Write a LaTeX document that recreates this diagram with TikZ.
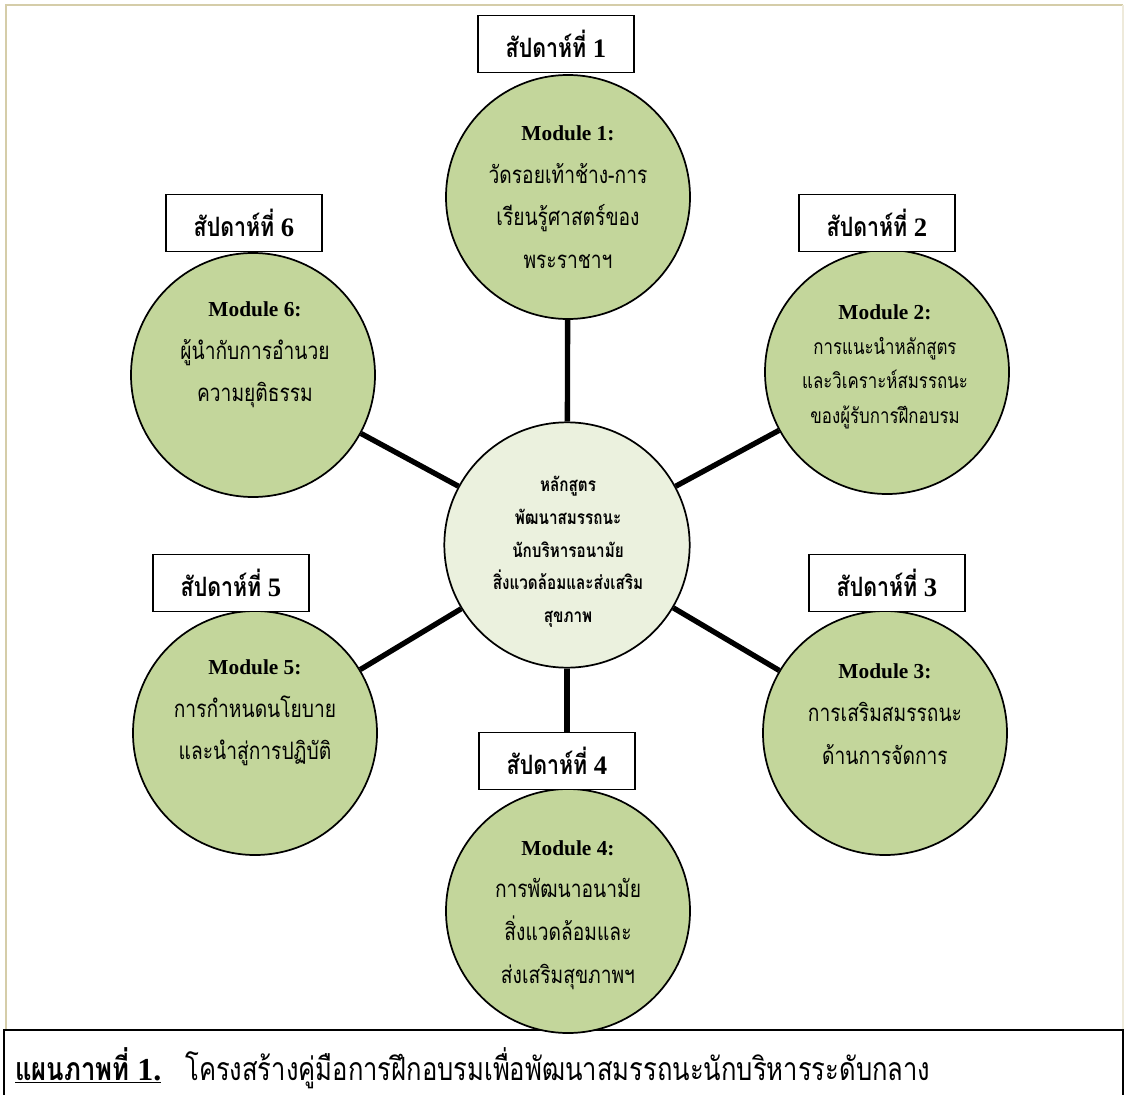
\documentclass[tikz,border=0pt]{standalone}
\usepackage{fontspec}
\setmainfont{Liberation Serif}
\newfontfamily\thai[Script=Thai,FakeStretch=0.8]{Loma}
\newcommand{\modhead}[1]{{\fontsize{16}{32}\selectfont\bfseries #1}}
\definecolor{modfill}{HTML}{C3D69B}
\definecolor{cenfill}{HTML}{EBF1DE}
\definecolor{frametan}{HTML}{D5CDA9}
\definecolor{frameright}{HTML}{EEEADB}
\tikzset{
  modcirc/.style={circle, draw=black, line width=1.3pt, fill=modfill, minimum size=183pt, inner sep=0pt},
  cencirc/.style={circle, draw=black, line width=1.3pt, fill=cenfill, minimum size=184pt, inner sep=0pt},
  weekbox/.style={rectangle, draw=black, line width=1.1pt, fill=white, minimum width=117pt, minimum height=43pt, inner sep=0pt, font=\bfseries\fontsize{20}{24}\selectfont},
  link/.style={line width=4pt},
  modtext/.style={align=center, inner sep=0pt, font=\fontsize{18}{32}\selectfont},
  modtextsmall/.style={align=center, inner sep=0pt, font=\fontsize{15.8}{26}\selectfont},
  centext/.style={align=center, inner sep=0pt, font=\bfseries\fontsize{14.3}{24.5}\selectfont},
}
\begin{document}
\begin{tikzpicture}[x=0.75pt,y=-0.75pt]
\useasboundingbox (0,0) rectangle (1125,1095);
% outer frame
\draw[frametan, line width=2pt] (6,1030) -- (6,5) -- (1123,5);
\draw[frameright, line width=1.2pt] (1123,5) -- (1123,1030);
% caption box
\draw[black, line width=1.5pt] (4,1100) -- (4,1030) -- (1123,1030) -- (1123,1100);
\node[anchor=west, inner sep=0pt, font=\fontsize{24}{28}\selectfont] (cap) at (15,1068)
  {\underline{\bfseries{\thai แผนภาพที่} 1.}\ \ \ {\thai โครงสร้างคู่มือการฝึกอบรมเพื่อพัฒนาสมรรถนะนักบริหารระดับกลาง}};
% circles
\node[cencirc] (c) at (567,545) {};
\node[modcirc] (m1) at (568,197) {};
\node[modcirc] (m2) at (887,372) {};
\node[modcirc] (m3) at (885,733) {};
\node[modcirc] (m4) at (568,911) {};
\node[modcirc] (m5) at (255,733) {};
\node[modcirc] (m6) at (253,375) {};
% week boxes
\node[weekbox] (w1) at (556,44) {{\thai สัปดาห์ที่} 1};
\node[weekbox] (w2) at (877,223) {{\thai สัปดาห์ที่} 2};
\node[weekbox] (w3) at (887,583) {{\thai สัปดาห์ที่} 3};
\node[weekbox] (w4) at (557,761) {{\thai สัปดาห์ที่} 4};
\node[weekbox] (w5) at (231,583) {{\thai สัปดาห์ที่} 5};
\node[weekbox] (w6) at (244,223) {{\thai สัปดาห์ที่} 6};
% connectors
\draw[link] (c) -- (m1);
\draw[link] (c) -- (m2);
\draw[link] (c) -- (m3);
\draw[link] (c.south) -- (c.south |- w4.north);
\draw[link] (c) -- (m5);
\draw[link] (c) -- (m6);
% texts
\node[modtext] (t1) at (568,197) {\modhead{Module 1:}\\{\thai วัดรอยเท้าช้าง-การ}\\{\thai เรียนรู้ศาสตร์ของ}\\{\thai พระราชาฯ}};
\node[modtextsmall] (t2) at (885,367) {\modhead{Module 2:}\\{\thai การแนะนำหลักสูตร}\\{\thai และวิเคราะห์สมรรถนะ}\\{\thai ของผู้รับการฝึกอบรม}};
\node[modtext] (t3) at (885,714) {\modhead{Module 3:}\\{\thai การเสริมสมรรถนะ}\\{\thai ด้านการจัดการ}};
\node[modtext] (t4) at (568,915) {\modhead{Module 4:}\\{\thai การพัฒนาอนามัย}\\{\thai สิ่งแวดล้อมและ}\\{\thai ส่งเสริมสุขภาพฯ}};
\node[modtext] (t5) at (255,713) {\modhead{Module 5:}\\{\thai การกำหนดนโยบาย}\\{\thai และนำสู่การปฏิบัติ}};
\node[modtext] (t6) at (255,355) {\modhead{Module 6:}\\{\thai ผู้นำกับการอำนวย}\\{\thai ความยุติธรรม}};
\node[centext] (tc) at (568,552) {{\thai หลักสูตร}\\{\thai พัฒนาสมรรถนะ}\\{\thai นักบริหารอนามัย}\\{\thai สิ่งแวดล้อมและส่งเสริม}\\{\thai สุขภาพ}};
\end{tikzpicture}
\end{document}
